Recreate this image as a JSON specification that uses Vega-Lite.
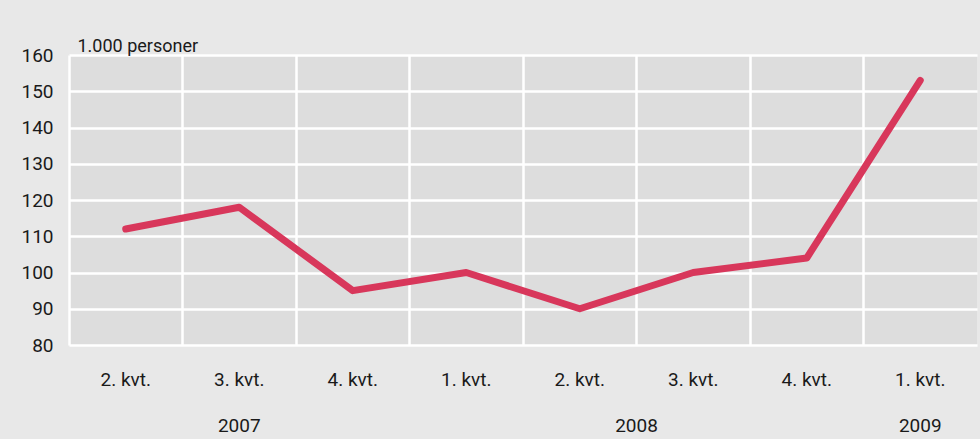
{
  "$schema": "https://vega.github.io/schema/vega-lite/v6.json",
  "autosize": {"type": "none"},
  "width": 908,
  "height": 290,
  "padding": {"left": 69, "top": 55, "right": 3, "bottom": 94},
  "background": "#e8e8e8",
  "datasets": {
    "series": [
      {"periode": "2. kvt. 2007", "personer": 112},
      {"periode": "3. kvt. 2007", "personer": 118},
      {"periode": "4. kvt. 2007", "personer": 95},
      {"periode": "1. kvt. 2008", "personer": 100},
      {"periode": "2. kvt. 2008", "personer": 90},
      {"periode": "3. kvt. 2008", "personer": 100},
      {"periode": "4. kvt. 2008", "personer": 104},
      {"periode": "1. kvt. 2009", "personer": 153}
    ],
    "years_center": [
      {"aar": "2007", "periode": "3. kvt. 2007"},
      {"aar": "2009", "periode": "1. kvt. 2009"}
    ],
    "years_edge": [
      {"aar": "2008", "periode": "3. kvt. 2008"}
    ]
  },
  "config": {
    "view": {"fill": "#dddddd", "stroke": null},
    "font": "Roboto",
    "axis": {
      "labelFont": "Roboto",
      "labelFontSize": 19,
      "labelColor": "#1a1a1a",
      "titleFont": "Roboto",
      "titleFontSize": 18,
      "titleFontWeight": "normal",
      "titleColor": "#1a1a1a",
      "gridColor": "#ffffff",
      "gridWidth": 2.5,
      "gridOpacity": 1,
      "domain": false,
      "ticks": false
    }
  },
  "layer": [
    {
      "data": {"name": "series"},
      "mark": {"type": "line", "color": "#d8375b", "strokeWidth": 7, "strokeCap": "round", "strokeJoin": "round"},
      "encoding": {
        "x": {
          "field": "periode",
          "type": "nominal",
          "scale": {
            "type": "band",
            "paddingInner": 0,
            "paddingOuter": 0,
            "domain": ["2. kvt. 2007", "3. kvt. 2007", "4. kvt. 2007", "1. kvt. 2008", "2. kvt. 2008", "3. kvt. 2008", "4. kvt. 2008", "1. kvt. 2009"]
          },
          "axis": {
            "title": null,
            "grid": true,
            "bandPosition": 0,
            "labelAngle": 0,
            "labelPadding": 25,
            "labelBaseline": "top",
            "labelExpr": "slice(datum.value, 0, 7)"
          }
        },
        "y": {
          "field": "personer",
          "type": "quantitative",
          "scale": {"domain": [80, 160], "nice": false, "zero": false},
          "axis": {
            "title": "1.000 personer",
            "titleAngle": 0,
            "titleAlign": "left",
            "titleBaseline": "alphabetic",
            "titleX": 8,
            "titleY": -4,
            "tickCount": 8,
            "labelPadding": 16,
            "grid": true
          }
        }
      }
    },
    {
      "data": {"name": "years_center"},
      "mark": {"type": "text", "font": "Roboto", "fontSize": 19, "color": "#1a1a1a", "baseline": "alphabetic", "align": "center", "dy": 87},
      "encoding": {
        "x": {"field": "periode", "type": "nominal", "bandPosition": 0.5},
        "y": {"datum": 80, "type": "quantitative"},
        "text": {"field": "aar"}
      }
    },
    {
      "data": {"name": "years_edge"},
      "mark": {"type": "text", "font": "Roboto", "fontSize": 19, "color": "#1a1a1a", "baseline": "alphabetic", "align": "center", "dy": 87},
      "encoding": {
        "x": {"field": "periode", "type": "nominal", "bandPosition": 0},
        "y": {"datum": 80, "type": "quantitative"},
        "text": {"field": "aar"}
      }
    }
  ]
}
